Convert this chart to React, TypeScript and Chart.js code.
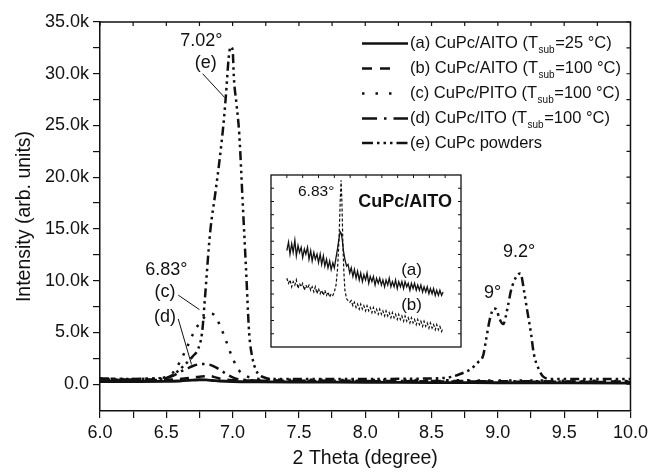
import React, { useEffect, useRef } from "react";
import { Chart, registerables } from "chart.js";

Chart.register(...registerables);

const FONT = '"Liberation Sans", Arial, Helvetica, sans-serif';
const INK = "#111";

// ---------- main chart data (2 theta in degrees, intensity in counts) ----------
const aX = [6.0, 6.3, 6.5, 6.6, 6.7, 6.75, 6.8, 6.85, 6.9, 7.0, 7.2, 7.5, 8.0, 8.5, 9.0, 9.5, 10.0];
const aY = [250, 250, 260, 300, 380, 420, 400, 350, 300, 250, 220, 200, 180, 150, 130, 110, 100];

const bX = [6.0, 6.3, 6.5, 6.6, 6.65, 6.7, 6.75, 6.8, 6.83, 6.87, 6.92, 7.0, 7.2, 7.5, 8.0, 8.5, 9.0, 9.5, 10.0];
const bY = [380, 400, 420, 480, 560, 650, 720, 760, 780, 650, 480, 380, 330, 300, 280, 260, 240, 220, 200];

const cX = [6.0, 6.2, 6.4, 6.5, 6.55, 6.6, 6.65, 6.7, 6.75, 6.8, 6.83, 6.86, 6.9, 6.95, 7.0, 7.05, 7.1, 7.2, 7.5, 8.0, 8.5, 9.0, 9.5, 10.0];
const cY = [550, 500, 520, 700, 1100, 2100, 3400, 4800, 5900, 6600, 6800, 6700, 5800, 4200, 2500, 1300, 800, 500, 420, 400, 380, 350, 330, 300];

const dX = [6.0, 6.3, 6.45, 6.55, 6.6, 6.65, 6.7, 6.77, 6.82, 6.87, 6.92, 6.97, 7.02, 7.1, 7.3, 7.6, 8.0, 8.5, 9.0, 9.5, 10.0];
const dY = [450, 450, 500, 800, 1150, 1450, 1750, 1950, 1900, 1650, 1250, 850, 550, 400, 350, 330, 310, 300, 280, 260, 250];

const eX = [6.0, 6.2, 6.4, 6.5, 6.55, 6.6, 6.65, 6.7, 6.74, 6.77, 6.79, 6.83, 6.87, 6.9, 6.93, 6.95, 6.97, 6.985, 7.0, 7.01, 7.03, 7.05, 7.075, 7.1, 7.125, 7.15, 7.175, 7.2, 7.25, 7.3, 7.5, 8.0, 8.5, 8.6, 8.65, 8.72, 8.79, 8.85, 8.89, 8.91, 8.94, 8.97, 8.99, 9.01, 9.04, 9.075, 9.1, 9.14, 9.17, 9.2, 9.22, 9.25, 9.27, 9.31, 9.34, 9.4, 9.6, 9.8, 10.0];
const eY = [550, 500, 550, 600, 900, 1400, 2000, 2700, 3400, 5000, 8100, 14600, 18500, 21500, 25000, 28000, 31500, 32600, 32300, 29500, 27000, 24200, 17800, 11400, 4900, 2500, 1400, 900, 600, 500, 500, 500, 550, 600, 700, 1000, 1400, 2100, 2800, 4200, 6300, 7300, 7200, 6400, 5800, 7500, 9100, 10400, 10700, 8800, 7200, 4900, 3000, 1400, 750, 500, 500, 500, 500];

const seriesLabels = [
  "(a) CuPc/AITO (Tsub=25 °C)",
  "(b) CuPc/AITO (Tsub=100 °C)",
  "(c) CuPc/PITO (Tsub=100 °C)",
  "(d) CuPc/ITO (Tsub=100 °C)",
  "(e) CuPc powders",
];

const xTickValues = [6.0, 6.25, 6.5, 6.75, 7.0, 7.25, 7.5, 7.75, 8.0, 8.25, 8.5, 8.75, 9.0, 9.25, 9.5, 9.75, 10.0];
const yTickValues = [0, 2500, 5000, 7500, 10000, 12500, 15000, 17500, 20000, 22500, 25000, 27500, 30000, 32500, 35000];

// peak annotations: [text, x, y]
const peakLabels: [string, number, number][] = [
  ["7.02°", 6.765, 33200],
  ["(e)", 6.797, 31000],
  ["6.83°", 6.5, 11000],
  ["(c)", 6.49, 8900],
  ["(d)", 6.49, 6500],
  ["9.2°", 9.16, 12800],
  ["9°", 8.96, 8800],
];
// leader lines: [x1, y1, x2, y2]
const leaderLines: [number, number, number, number][] = [
  [6.774, 30000, 6.94, 27700],
  [6.59, 8600, 6.75, 7200],
  [6.59, 6300, 6.69, 1900],
];

// ---------- inset data (2 theta, relative intensity) ----------
const inAX = [6.575, 6.583, 6.59, 6.598, 6.605, 6.613, 6.62, 6.628, 6.635, 6.643, 6.65, 6.658, 6.665, 6.673, 6.68, 6.688, 6.695, 6.703, 6.71, 6.718, 6.725, 6.733, 6.74, 6.748, 6.755, 6.763, 6.77, 6.778, 6.785, 6.793, 6.8, 6.808, 6.815, 6.822, 6.828, 6.833, 6.838, 6.843, 6.85, 6.858, 6.865, 6.873, 6.88, 6.888, 6.895, 6.903, 6.91, 6.918, 6.925, 6.933, 6.94, 6.948, 6.955, 6.963, 6.97, 6.978, 6.985, 6.993, 7.0, 7.008, 7.015, 7.023, 7.03, 7.038, 7.045, 7.053, 7.06, 7.068, 7.075, 7.083, 7.09, 7.098, 7.105, 7.113, 7.12, 7.128, 7.135, 7.143, 7.15, 7.158, 7.165, 7.173, 7.18, 7.188, 7.195, 7.203, 7.21, 7.218, 7.225, 7.233, 7.24, 7.248, 7.255, 7.263, 7.27, 7.278, 7.285, 7.293, 7.3, 7.308, 7.315];
const inAY = [56, 61, 54, 60, 55, 62, 53, 59, 55, 58, 52, 57, 54, 58, 51, 56, 50, 55, 51, 54, 49, 54, 48, 53, 47, 51, 46, 50, 45, 49, 46, 52, 57, 63, 67, 66, 62, 56, 51, 47, 48, 43, 46, 41, 45, 40, 44, 39, 43, 38, 42, 39, 43, 37, 41, 38, 41, 36, 40, 37, 40, 36, 39, 35, 39, 36, 40, 35, 38, 35, 39, 34, 38, 35, 38, 34, 38, 35, 37, 33, 37, 34, 37, 33, 36, 33, 36, 32, 35, 32, 35, 31, 34, 31, 34, 30, 33, 30, 33, 30, 32];

const inBX = [6.575, 6.583, 6.59, 6.598, 6.605, 6.613, 6.62, 6.628, 6.635, 6.643, 6.65, 6.658, 6.665, 6.673, 6.68, 6.688, 6.695, 6.703, 6.71, 6.718, 6.725, 6.733, 6.74, 6.748, 6.755, 6.763, 6.77, 6.778, 6.785, 6.793, 6.8, 6.808, 6.815, 6.822, 6.828, 6.832, 6.836, 6.84, 6.845, 6.85, 6.858, 6.865, 6.873, 6.88, 6.888, 6.895, 6.903, 6.91, 6.918, 6.925, 6.933, 6.94, 6.948, 6.955, 6.963, 6.97, 6.978, 6.985, 6.993, 7.0, 7.008, 7.015, 7.023, 7.03, 7.038, 7.045, 7.053, 7.06, 7.068, 7.075, 7.083, 7.09, 7.098, 7.105, 7.113, 7.12, 7.128, 7.135, 7.143, 7.15, 7.158, 7.165, 7.173, 7.18, 7.188, 7.195, 7.203, 7.21, 7.218, 7.225, 7.233, 7.24, 7.248, 7.255, 7.263, 7.27, 7.278, 7.285, 7.293, 7.3, 7.308, 7.315];
const inBY = [40, 37, 39, 35, 38, 36, 39, 34, 37, 35, 37, 33, 36, 34, 36, 33, 35, 32, 35, 31, 34, 31, 33, 30, 33, 30, 32, 29, 31, 30, 32, 36, 45, 62, 85, 97, 84, 62, 44, 33, 28, 27, 26, 27, 24, 26, 23, 25, 22, 25, 22, 24, 21, 24, 21, 23, 20, 23, 20, 22, 19, 22, 19, 21, 18, 21, 18, 20, 17, 20, 17, 19, 16, 19, 16, 18, 15, 18, 15, 17, 14, 17, 14, 16, 13, 16, 13, 15, 12, 15, 12, 14, 11, 14, 11, 13, 10, 13, 10, 12, 9, 11];

// inset labels: [text, x, y, bold, size]
const insetLabels: [string, number, number, boolean, number][] = [
  ["6.83°", 6.714, 90.5, false, 15.5],
  ["CuPc/AITO", 7.135, 84.5, true, 18],
  ["(a)", 7.166, 44.8, false, 17],
  ["(b)", 7.166, 24.4, false, 17],
];
const insetXTicks = [6.575, 6.65, 6.725, 6.8, 6.875, 6.95, 7.025, 7.1, 7.175, 7.25, 7.325];
const insetYTicks = [7.7, 15.4, 23.1, 30.8, 38.5, 46.2, 53.8, 61.5, 69.2, 76.9, 84.6, 92.3];

// ---------- styling ----------
const dashes: number[][] = [[], [9, 7], [2.5, 8], [10, 5, 2.5, 5], [9, 4, 2.5, 4, 2.5, 4, 2.5, 4]];
const legendDashes: number[][] = [[], [10, 8], [2.5, 11], [15, 7, 2.5, 7], [11, 4, 2.5, 4, 2.5, 4, 2.5, 4]];
const legendLens = [46, 30, 30, 46, 46];

const toPts = (xs: number[], ys: number[]) => xs.map((x, i) => ({ x, y: ys[i] }));

function drawLegend(ctx: CanvasRenderingContext2D) {
  const x0 = 362;
  const tx = 410;
  const rows = [43.5, 68.5, 93.5, 118.5, 143];
  ctx.save();
  rows.forEach((ry, i) => {
    ctx.strokeStyle = INK;
    ctx.lineWidth = 2.5;
    ctx.lineCap = "butt";
    ctx.setLineDash(legendDashes[i]);
    ctx.beginPath();
    ctx.moveTo(x0, ry);
    ctx.lineTo(x0 + legendLens[i], ry);
    ctx.stroke();
    ctx.setLineDash([]);
    const label = seriesLabels[i];
    ctx.fillStyle = INK;
    ctx.textBaseline = "middle";
    ctx.textAlign = "left";
    const k = label.indexOf("Tsub");
    if (k < 0) {
      ctx.font = `16.5px ${FONT}`;
      ctx.fillText(label, tx, ry);
    } else {
      const pre = label.slice(0, k + 1);
      const post = label.slice(k + 4);
      ctx.font = `16.5px ${FONT}`;
      ctx.fillText(pre, tx, ry);
      let cx = tx + ctx.measureText(pre).width;
      ctx.font = `10px ${FONT}`;
      ctx.fillText("sub", cx + 0.5, ry + 7);
      cx += ctx.measureText("sub").width + 1;
      ctx.font = `16.5px ${FONT}`;
      ctx.fillText(post, cx, ry);
    }
  });
  ctx.restore();
}

const mainPlugin = {
  id: "mainDecor",
  afterDraw(chart: any) {
    const { ctx, chartArea: ca, scales } = chart;
    const xs = scales.x;
    const ys = scales.y;
    ctx.save();
    // top & right frame with inward ticks
    ctx.strokeStyle = INK;
    ctx.lineWidth = 1.5;
    ctx.beginPath();
    ctx.moveTo(ca.left, ca.top);
    ctx.lineTo(ca.right, ca.top);
    ctx.lineTo(ca.right, ca.bottom);
    ctx.stroke();
    ctx.lineWidth = 1.2;
    ctx.beginPath();
    xTickValues.forEach((v) => {
      const px = xs.getPixelForValue(v);
      ctx.moveTo(px, ca.top);
      ctx.lineTo(px, ca.top + 4);
    });
    yTickValues.forEach((v) => {
      const py = ys.getPixelForValue(v);
      ctx.moveTo(ca.right, py);
      ctx.lineTo(ca.right - 4, py);
    });
    ctx.stroke();
    // leader lines
    ctx.lineWidth = 1;
    ctx.beginPath();
    leaderLines.forEach(([x1, y1, x2, y2]) => {
      ctx.moveTo(xs.getPixelForValue(x1), ys.getPixelForValue(y1));
      ctx.lineTo(xs.getPixelForValue(x2), ys.getPixelForValue(y2));
    });
    ctx.stroke();
    // peak labels
    ctx.fillStyle = INK;
    ctx.font = `18px ${FONT}`;
    ctx.textAlign = "center";
    ctx.textBaseline = "middle";
    peakLabels.forEach(([t, x, y]) => {
      ctx.fillText(t, xs.getPixelForValue(x), ys.getPixelForValue(y));
    });
    ctx.restore();
    drawLegend(ctx);
  },
};

const insetPlugin = {
  id: "insetDecor",
  beforeDraw(chart: any) {
    const { ctx, width, height } = chart;
    ctx.save();
    ctx.fillStyle = "#fff";
    ctx.fillRect(0, 0, width, height);
    ctx.restore();
  },
  afterDraw(chart: any) {
    const { ctx, chartArea: ca, scales } = chart;
    const xs = scales.x;
    const ys = scales.y;
    ctx.save();
    ctx.strokeStyle = INK;
    ctx.lineWidth = 1.3;
    ctx.strokeRect(ca.left, ca.top, ca.right - ca.left, ca.bottom - ca.top);
    ctx.lineWidth = 1;
    ctx.beginPath();
    insetXTicks.forEach((v) => {
      const px = xs.getPixelForValue(v);
      ctx.moveTo(px, ca.top);
      ctx.lineTo(px, ca.top + 3);
    });
    insetYTicks.forEach((v) => {
      const py = ys.getPixelForValue(v);
      ctx.moveTo(ca.left, py);
      ctx.lineTo(ca.left + 3, py);
      ctx.moveTo(ca.right, py);
      ctx.lineTo(ca.right - 3, py);
    });
    ctx.stroke();
    ctx.fillStyle = INK;
    ctx.textAlign = "center";
    ctx.textBaseline = "middle";
    insetLabels.forEach(([t, x, y, bold, size]) => {
      ctx.font = `${bold ? "bold " : ""}${size}px ${FONT}`;
      ctx.fillText(t, xs.getPixelForValue(x), ys.getPixelForValue(y));
    });
    ctx.restore();
  },
};

export default function App() {
  const mainRef = useRef<HTMLCanvasElement>(null);
  const insetRef = useRef<HTMLCanvasElement>(null);

  useEffect(() => {
    const series = [
      toPts(aX, aY),
      toPts(bX, bY),
      toPts(cX, cY),
      toPts(dX, dY),
      toPts(eX, eY),
    ];
    const main = new Chart(mainRef.current!, {
      type: "line",
      data: {
        datasets: series.map((pts, i) => ({
          label: seriesLabels[i],
          data: pts,
          borderColor: INK,
          borderWidth: i === 0 ? 2.8 : 2.5,
          borderDash: dashes[i],
          borderCapStyle: "butt",
          borderJoinStyle: "round",
          pointRadius: 0,
          fill: false,
          cubicInterpolationMode: "monotone",
        })),
      },
      options: {
        animation: false,
        responsive: false,
        maintainAspectRatio: false,
        layout: { padding: { top: 22, right: 20, left: 0, bottom: 0 } },
        plugins: { legend: { display: false }, tooltip: { enabled: false } },
        scales: {
          x: {
            type: "linear",
            min: 6,
            max: 10,
            afterBuildTicks: (s: any) => {
              s.ticks = xTickValues.map((v) => ({ value: v }));
            },
            afterFit: (s: any) => {
              s.height = 64;
            },
            ticks: {
              autoSkip: false,
              maxRotation: 0,
              padding: 4,
              color: INK,
              font: { family: FONT, size: 18 },
              callback: (v: any) => (Math.abs((v * 2) - Math.round(v * 2)) < 1e-6 ? Number(v).toFixed(1) : ""),
            },
            grid: { drawOnChartArea: false, drawTicks: true, tickLength: 7, color: INK, lineWidth: 1.2 },
            border: { display: true, color: INK, width: 1.5 },
            title: {
              display: true,
              text: "2 Theta (degree)",
              color: INK,
              font: { family: FONT, size: 19.5 },
              padding: { top: 0, bottom: 5 },
            },
          },
          y: {
            type: "linear",
            min: -2600,
            max: 35000,
            afterBuildTicks: (s: any) => {
              s.ticks = yTickValues.map((v) => ({ value: v }));
            },
            afterFit: (s: any) => {
              s.width = 100;
            },
            ticks: {
              autoSkip: false,
              padding: 4,
              color: INK,
              font: { family: FONT, size: 18 },
              callback: (v: any) => (v % 5000 === 0 ? (v / 1000).toFixed(1) + (v === 0 ? "" : "k") : ""),
            },
            grid: { drawOnChartArea: false, drawTicks: true, tickLength: 7, color: INK, lineWidth: 1.2 },
            border: { display: true, color: INK, width: 1.5 },
            title: {
              display: true,
              text: "Intensity (arb. units)",
              color: INK,
              font: { family: FONT, size: 19.5 },
              padding: { top: 13, bottom: 0 },
            },
          },
        },
      },
      plugins: [mainPlugin],
    } as any);

    const inset = new Chart(insetRef.current!, {
      type: "line",
      data: {
        datasets: [
          {
            label: "(a)",
            data: toPts(inAX, inAY),
            borderColor: INK,
            borderWidth: 1.3,
            pointRadius: 0,
            tension: 0,
            fill: false,
          },
          {
            label: "(b)",
            data: toPts(inBX, inBY),
            borderColor: INK,
            borderWidth: 1.2,
            borderDash: [3, 2],
            pointRadius: 0,
            tension: 0,
            fill: false,
          },
        ],
      },
      options: {
        animation: false,
        responsive: false,
        maintainAspectRatio: false,
        layout: { padding: 1 },
        plugins: { legend: { display: false }, tooltip: { enabled: false } },
        scales: {
          x: { type: "linear", min: 6.5, max: 7.4, display: false },
          y: { type: "linear", min: 0, max: 100, display: false },
        },
      },
      plugins: [insetPlugin],
    } as any);

    return () => {
      main.destroy();
      inset.destroy();
    };
  }, []);

  return (
    <div style={{ position: "absolute", left: 0, top: 0, width: 652, height: 475, background: "#fff" }}>
      <canvas ref={mainRef} width={652} height={475} style={{ position: "absolute", left: 0, top: 0, width: 652, height: 475 }} />
      <canvas ref={insetRef} width={192} height={174} style={{ position: "absolute", left: 270, top: 174, width: 192, height: 174 }} />
    </div>
  );
}
